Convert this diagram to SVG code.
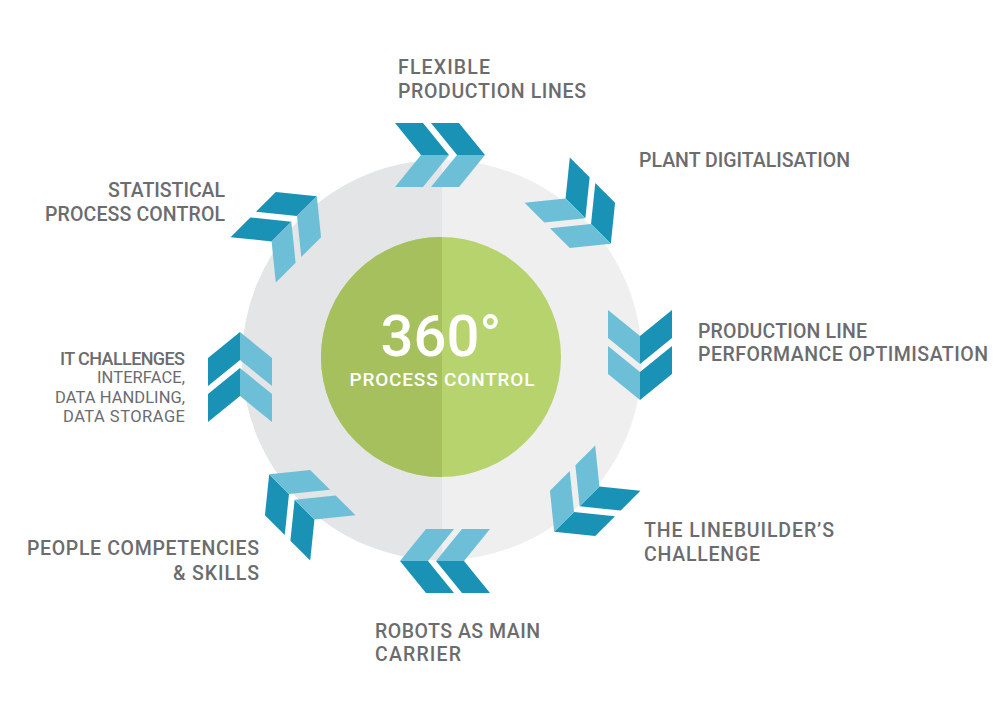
<svg xmlns="http://www.w3.org/2000/svg" xmlns:xlink="http://www.w3.org/1999/xlink" width="1002" height="706" viewBox="0 0 1002 706">
<style>
.dk{fill:#1a92b6}
.lt{fill:#6dbfd7}
.lbl{font-family:Roboto,"Liberation Sans",sans-serif;font-weight:500;font-size:19.5px;fill:#6b6c6e}
.sub{font-family:Roboto,"Liberation Sans",sans-serif;font-weight:400;font-size:16.5px;fill:#6b6c6e}
.big{font-family:Roboto,"Liberation Sans",sans-serif;font-weight:500;font-size:58px;fill:#ffffff}
.mid{font-family:Roboto,"Liberation Sans",sans-serif;font-weight:500;font-size:19px;fill:#ffffff}
</style>
<defs>
<g id="pair">
<polygon class="dk" points="-45,-32 -17,-32 9,0 -19,0"/>
<polygon class="lt" points="-19,0 9,0 -17,32 -45,32"/>
<polygon class="dk" points="-9,-32 19,-32 45,0 17,0"/>
<polygon class="lt" points="17,0 45,0 19,32 -9,32"/>
</g>
<clipPath id="leftHalf"><rect x="0" y="0" width="442" height="706"/></clipPath>
</defs>
<rect width="1002" height="706" fill="#ffffff"/>
<g id="ring">
<circle cx="442" cy="360" r="200" fill="#efefef"/>
<circle cx="442" cy="360" r="200" fill="#e4e5e7" clip-path="url(#leftHalf)"/>
</g>
<g id="hub">
<circle cx="441" cy="357" r="120" fill="#b6d36e"/>
<circle cx="441" cy="357" r="120" fill="#a5c05d" clip-path="url(#leftHalf)"/>
<text class="big" x="441" y="356" text-anchor="middle">360°</text>
<text class="mid" x="442" y="386" text-anchor="middle" textLength="185">PROCESS CONTROL</text>
</g>
<g id="flexible">
<use xlink:href="#pair" href="#pair" transform="translate(440,155)"/>
<text class="lbl" x="398" y="74" textLength="92">FLEXIBLE</text>
<text class="lbl" x="398" y="98" textLength="188">PRODUCTION LINES</text>
</g>
<g id="plant">
<use xlink:href="#pair" href="#pair" transform="translate(579,212) rotate(45)"/>
<text class="lbl" x="639" y="167" textLength="211">PLANT DIGITALISATION</text>
</g>
<g id="performance">
<use xlink:href="#pair" href="#pair" transform="translate(640,355) rotate(90)"/>
<text class="lbl" x="698" y="338" textLength="169">PRODUCTION LINE</text>
<text class="lbl" x="698" y="361" textLength="290">PERFORMANCE OPTIMISATION</text>
</g>
<g id="linebuilder">
<use xlink:href="#pair" href="#pair" transform="translate(586,500) rotate(135)"/>
<text class="lbl" x="644" y="537" textLength="190">THE LINEBUILDER’S</text>
<text class="lbl" x="644" y="561" textLength="116">CHALLENGE</text>
</g>
<g id="robots">
<use xlink:href="#pair" href="#pair" transform="translate(445,561) rotate(180)"/>
<text class="lbl" x="375" y="638" textLength="165">ROBOTS AS MAIN</text>
<text class="lbl" x="375" y="661" textLength="86">CARRIER</text>
</g>
<g id="people">
<use xlink:href="#pair" href="#pair" transform="translate(301,506) rotate(225)"/>
<text class="lbl" x="27" y="555" textLength="232">PEOPLE COMPETENCIES</text>
<text class="lbl" x="173" y="580" textLength="86">&amp; SKILLS</text>
</g>
<g id="it">
<use xlink:href="#pair" href="#pair" transform="translate(240,377) rotate(270)"/>
<text class="lbl" x="60" y="365" textLength="125" style="font-size:18px">IT CHALLENGES</text>
<text class="sub" x="97" y="383" textLength="88">INTERFACE,</text>
<text class="sub" x="55" y="403" textLength="130">DATA HANDLING,</text>
<text class="sub" x="63" y="422" textLength="122">DATA STORAGE</text>
</g>
<g id="spc">
<use xlink:href="#pair" href="#pair" transform="translate(285,228) rotate(315)"/>
<text class="lbl" x="108" y="197" textLength="117">STATISTICAL</text>
<text class="lbl" x="45" y="221" textLength="180">PROCESS CONTROL</text>
</g>
</svg>
